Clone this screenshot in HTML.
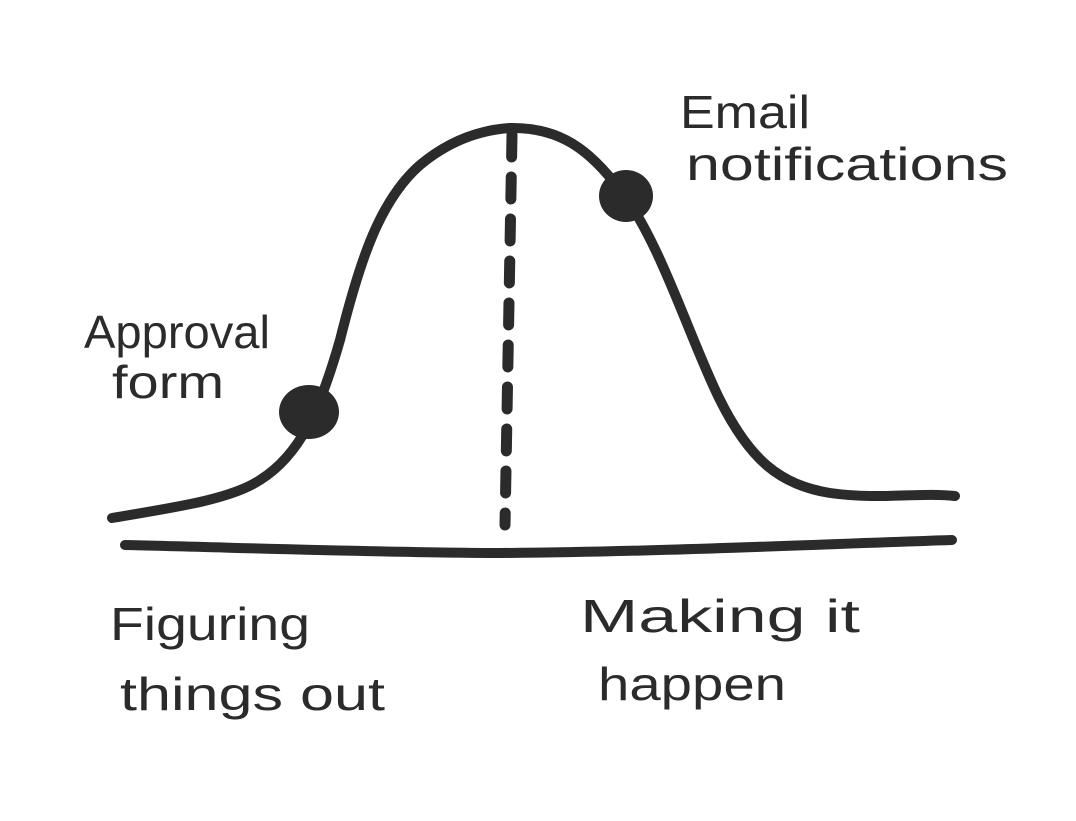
<!DOCTYPE html>
<html><head><meta charset="utf-8"><style>
html,body{margin:0;padding:0;background:#fff;}
svg{display:block;}
text{font-family:"Liberation Sans",sans-serif;fill:#2b2b2b;}
</style></head><body>
<svg width="1076" height="821" viewBox="0 0 1076 821" xmlns="http://www.w3.org/2000/svg">
<rect width="1076" height="821" fill="#fff"/>
<g fill="none" stroke="#2b2b2b" stroke-width="10" stroke-linecap="round" stroke-linejoin="round">
<path d="M112 518 C170 508 230 500 260 480 C300 455 320 410 340 340 C360 260 380 200 420 165 C450 140 480 130 510 128 C560 127 590 150 620 190 C660 240 690 340 720 400 C750 460 780 485 830 493 C880 500 920 492 955 496"/>
<path d="M125 545 C250 548 400 553 500 553 C650 552 800 545 952 540"/>
<path d="M512 135 L505 525" stroke-dasharray="22 20" stroke-width="11"/>
</g>
<ellipse cx="309" cy="412" rx="30" ry="27" fill="#2b2b2b"/>
<ellipse cx="626" cy="196" rx="27" ry="26" fill="#2b2b2b"/>
<g font-size="46" lengthAdjust="spacingAndGlyphs">
<text x="680" y="128" textLength="130" lengthAdjust="spacingAndGlyphs">Email</text>
<text x="686" y="180" textLength="322" lengthAdjust="spacingAndGlyphs">notifications</text>
<text x="84" y="348" textLength="186" lengthAdjust="spacingAndGlyphs">Approval</text>
<text x="112" y="398" textLength="112" lengthAdjust="spacingAndGlyphs">form</text>
<text x="110" y="640" textLength="200" lengthAdjust="spacingAndGlyphs">Figuring</text>
<text x="120" y="710" textLength="265" lengthAdjust="spacingAndGlyphs">things out</text>
<text x="580" y="632" textLength="280" lengthAdjust="spacingAndGlyphs">Making it</text>
<text x="598" y="700" textLength="188" lengthAdjust="spacingAndGlyphs">happen</text>
</g>
</svg>
</body></html>
